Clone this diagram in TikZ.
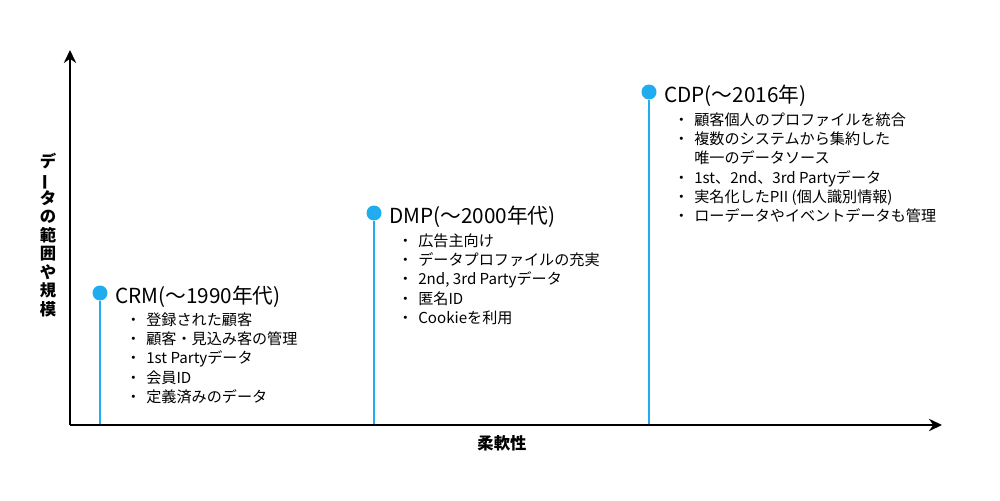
\documentclass[tikz,border=0pt]{standalone}
\usepackage{fontspec}
\setmainfont{Noto Sans CJK JP}
\usetikzlibrary{arrows.meta,positioning}

\definecolor{tlblue}{RGB}{34,172,240}
\newcommand{\bul}{\makebox[0pt][c]{・}\hspace{7.4pt}}

\begin{document}
\begin{tikzpicture}[x=0.02cm,y=-0.02cm,
  axis/.style={line width=1.5pt,-{Stealth[length=7.4pt,width=7pt]}},
  stem/.style={tlblue,line width=1.1pt},
  dot/.style={circle,fill=tlblue,inner sep=0pt,minimum size=0.3cm},
  era/.style={font=\fontsize{11.8}{13}\selectfont,inner sep=0pt,anchor=west},
  items/.style={font=\fontsize{8.6}{11}\selectfont,inner sep=0pt,anchor=north west,align=left},
  lab/.style={font=\fontsize{9.3}{10.5}\selectfont\bfseries,inner sep=0pt,align=center}]
  \useasboundingbox (0,0) rectangle (1000,500);

  \coordinate (o) at (70,425);
  \coordinate (ytop) at (70,50);
  \coordinate (xend) at (942,425);

  % eras
  \node[dot] (crm) at (100,293) {};
  \node[dot] (dmp) at (374,213) {};
  \node[dot] (cdp) at (649,92) {};
  \foreach \n in {crm,dmp,cdp}
    \draw[stem] (\n) -- (\n |- o);

  \node[era,right=4pt of crm,yshift=-2pt] (crmt) {CRM(〜1990年代)};
  \node[era,right=4pt of dmp,yshift=-2pt] (dmpt) {DMP(〜2000年代)};
  \node[era,right=4pt of cdp,yshift=-2pt] (cdpt) {CDP(〜2016年)};

  \node[items] (crmi) at (133,312) {\bul 登録された顧客\\ \bul 顧客・見込み客の管理\\
    \bul 1st Partyデータ\\ \bul 会員ID\\ \bul 定義済みのデータ};
  \node[items] (dmpi) at (405,233) {\bul 広告主向け\\ \bul データプロファイルの充実\\
    \bul 2nd, 3rd Partyデータ\\ \bul 匿名ID\\ \bul Cookieを利用};
  \node[items] (cdpi) at (681,112) {\bul 顧客個人のプロファイルを統合\\
    \bul 複数のシステムから集約した\\ \hspace*{7.4pt}唯一のデータソース\\
    \bul 1st、2nd、3rd Partyデータ\\ \bul 実名化したPII (個人識別情報)\\
    \bul ローデータやイベントデータも管理};

  % axes
  \draw[axis] (o) -- (ytop);
  \draw[axis] (o) -- (xend);
  \node[lab] (ylab) at (48,235) {デ\\\rotatebox[origin=c]{90}{ー}\\タ\\の\\範\\囲\\や\\規\\模};
  \node[lab] (xlab) at (502,443) {柔軟性};
\end{tikzpicture}
\end{document}
